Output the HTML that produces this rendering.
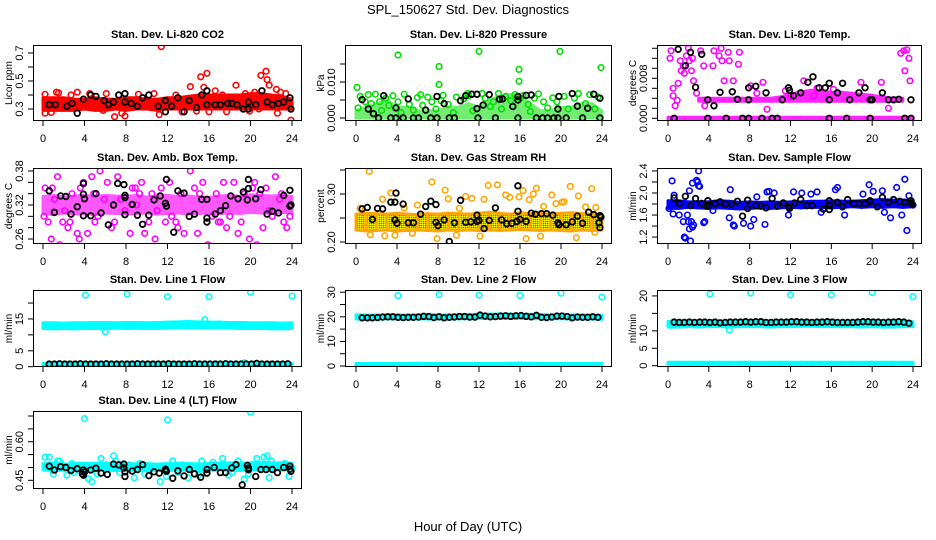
<!DOCTYPE html>
<html><head><meta charset="utf-8"><style>
html,body{margin:0;padding:0;background:#fff;}
svg{display:block;font-family:"Liberation Sans",Arial,sans-serif;}
</style></head><body>
<svg id="chart" width="936" height="540" viewBox="0 0 936 540" xmlns="http://www.w3.org/2000/svg">
<text x="468" y="14" font-size="13" text-anchor="middle">SPL_150627  Std. Dev. Diagnostics</text>
<text x="468" y="531" font-size="13" text-anchor="middle">Hour of Day (UTC)</text>
</svg>
<script>
const bandHours=[0,1,2,3,4,5,6,7,8,9,10,11,12,13,14,15,16,17,18,19,20,21,22,23,24];
const xTicks=[0,4,8,12,16,20,24];
const N=null;

// P1 CO2
const p1BandLo=[0.29,0.29,0.29,0.29,0.30,0.29,0.29,0.30,0.29,0.30,0.30,0.29,0.30,0.30,0.30,0.30,0.30,0.30,0.30,0.30,0.30,0.30,0.30,0.30,0.30];
const p1BandHi=[0.38,0.38,0.38,0.37,0.37,0.38,0.37,0.37,0.38,0.38,0.37,0.37,0.38,0.38,0.39,0.40,0.40,0.40,0.40,0.40,0.41,0.41,0.40,0.39,0.37];
const p1X=[11.4,15.2,15.8,14.2,21.0,21.5,21.6,21.8,18.6,6.9,7.9,23.9,11.2,0.2,1.3,1.5,3.3,9.2,0.2,16.6,22.5,0.8,7.6,12.8,15.5,17.3,19.5,20.4,22.9,23.4,4.5,6.1,2.7,10.7,14.8,16.0,17.7,20.8,22.6,5.8,13.4,19.9];
const p1Y=[0.745,0.53,0.555,0.46,0.54,0.57,0.51,0.47,0.47,0.245,0.25,0.22,0.26,0.405,0.42,0.415,0.42,0.405,0.27,0.43,0.44,0.275,0.27,0.40,0.455,0.40,0.41,0.42,0.42,0.41,0.41,0.41,0.40,0.41,0.285,0.28,0.28,0.30,0.27,0.29,0.28,0.285];
const p1BlackX=[0.6,1.2,2.3,2.8,3.3,3.9,4.6,5.1,5.9,6.3,6.8,7.3,7.9,7.9,8.5,9.1,9.6,10.2,11.1,11.8,11.8,12.4,13.0,13.6,14.1,14.8,15.3,15.8,15.8,16.6,17.1,17.8,18.2,18.7,19.3,19.8,19.8,20.5,21.1,21.6,22.1,22.7,23.2,23.8,23.9];
const p1BlackY=[0.33,0.33,0.32,0.34,0.27,0.37,0.40,0.39,0.36,0.33,0.35,0.40,0.41,0.35,0.34,0.32,0.38,0.40,0.32,0.36,0.28,0.32,0.38,0.28,0.36,0.31,0.40,0.43,0.33,0.33,0.33,0.34,0.34,0.33,0.30,0.30,0.35,0.33,0.43,0.35,0.33,0.34,0.35,0.38,0.30];

// P2 Pressure
const p2BandLo=[0,0,0,0,0,0,0,0,0,0,0,0,0,0,0,0,0,0,0,0,0,0,0,0,0];
const p2BandHi=[0.002,0.003,0.004,0.005,0.003,0.003,0.002,0.002,0.002,0.003,0.003,0.004,0.003,0.005,0.006,0.0065,0.006,0.004,0.002,0.002,0.003,0.003,0.004,0.004,0.002];
const p2X=[0.1,4.1,8.1,8.1,12.0,15.9,15.9,19.9,23.9,0.2,0.4,0.9,1.2,1.5,1.9,2.3,2.5,2.9,3.2,3.6,4.1,4.4,4.7,5.2,5.6,6.0,6.3,6.5,7.0,7.4,7.8,8.3,8.5,9.0,9.5,9.8,10.5,10.9,11.4,12.3,12.6,13.4,13.9,14.6,15.1,15.5,16.3,16.8,17.4,17.8,18.3,18.7,19.2,19.6,20.3,20.7,21.3,21.7,22.4,22.8,23.3,23.6,11.0,13.1,14.2,16.0,17.0];
const p2Y=[0.0085,0.0175,0.0143,0.0093,0.0185,0.0135,0.0102,0.0185,0.0140,0.0028,0.006,0.0045,0.0065,0.004,0.0066,0.0045,0.0021,0.0055,0.0035,0.0062,0.0045,0.0015,0.0066,0.0038,0.0022,0.0057,0.0065,0.0035,0.0058,0.0045,0.0025,0.0048,0.0063,0.0038,0.0015,0.0058,0.0053,0.0068,0.0020,0.0068,0.0055,0.0045,0.0068,0.0060,0.0048,0.0065,0.0062,0.0038,0.0055,0.0067,0.0045,0.0028,0.0056,0.0045,0.0060,0.0025,0.0055,0.0068,0.0040,0.0065,0.0025,0.0058,0.0062,0.0032,0.0025,0.0055,0.0018];
const p2BlackX=[2.2,3.4,3.9,4.6,5.6,6.1,7.3,7.9,9.1,9.6,11.9,13.6,15.8,17.6,18.2,18.7,19.3,19.7,20.5,22.1,23.8,0.6,1.2,1.7,2.7,3.9,5.1,6.8,7.9,8.6,10.2,10.7,11.3,11.8,11.8,12.4,13.0,14.0,14.3,15.3,15.8,15.8,16.6,17.1,19.7,19.8,21.1,21.6,22.6,23.2,23.8];
const p2BlackY=[0,0,0,0,0,0,0,0,0,0,0,0,0,0,0,0,0,0,0,0,0,0.0051,0.0025,0.0012,0.0062,0.0028,0.0053,0.0022,0.0060,0.0040,0.0048,0.0062,0.0066,0.0066,0.0026,0.0036,0.0065,0.0052,0.0053,0.0032,0.0060,0.0050,0.0063,0.0064,0.0025,0.0060,0.0068,0.0033,0.0027,0.0066,0.0055];

// P3 Li-820 Temp
const p3Band1Lo=[-0.0002,-0.0002,-0.0002,-0.0002,-0.0002,-0.0002,-0.0002,-0.0002,-0.0002,-0.0002,-0.0002,-0.0002,-0.0002,-0.0002,-0.0002,-0.0002,-0.0002,-0.0002,-0.0002,-0.0002,-0.0002,-0.0002,-0.0002,-0.0002,-0.0002];
const p3Band1Hi=[0.0002,0.0002,0.0002,0.0002,0.0002,0.0002,0.0002,0.0002,0.0002,0.0002,0.0002,0.0002,0.0002,0.0002,0.0002,0.0002,0.0002,0.0002,0.0002,0.0002,0.0002,0.0002,0.0002,0.0002,0.0002];
const p3Band2Lo=[N,N,N,0.0034,0.0034,0.0034,0.0034,0.0034,0.0034,0.0034,0.0034,0.0034,0.0034,0.0034,0.0034,0.0034,0.0034,0.0034,0.0034,0.0034,0.0034,0.0034,0.0034,0.0034,N];
const p3Band2Hi=[N,N,N,0.0040,0.0040,0.0040,0.0040,0.0040,0.0040,0.0040,0.0040,0.0043,0.0048,0.0053,0.0056,0.0055,0.0052,0.0052,0.0050,0.0048,0.0046,0.0043,0.0040,0.0040,N];
const p3X=[0.2,0.3,0.5,0.5,0.7,0.9,1.0,1.2,1.3,1.5,1.6,1.8,2.0,2.1,2.3,2.4,2.5,2.8,3.2,3.5,3.6,4.4,4.5,5.0,5.2,5.3,5.5,5.9,6.0,6.4,6.9,7.0,8.1,8.7,9.3,11.5,13.3,14.3,18.9,20.9,22.8,23.1,23.4,23.6,23.7,23.2,21.6,9.7,12.0,14.6,16.2];
const p3Y=[0.012,0.0135,0.006,0.0045,0.0025,0.0036,0.007,0.0115,0.0095,0.0105,0.009,0.0125,0.014,0.0115,0.0095,0.012,0.0075,0.005,0.0135,0.0105,0.0025,0.0105,0.0135,0.0125,0.014,0.0115,0.0075,0.0132,0.0115,0.0075,0.0108,0.0132,0.0065,0.005,0.0072,0.0055,0.0075,0.0045,0.0072,0.0072,0.013,0.0135,0.0137,0.012,0.0075,0.0095,0.0020,0.0018,0.0044,0.0060,0.0058];
const p3BlackX=[1.0,1.7,2.2,3.3,2.7,3.9,4.5,5.1,6.3,6.8,7.9,7.9,8.6,9.6,11.2,11.8,11.9,12.3,13.0,13.7,14.2,14.8,15.4,15.8,15.8,16.6,17.1,17.8,18.7,19.3,19.8,20.0,21.0,21.6,22.1,22.6,23.8,0.6,3.9,5.7,7.3,7.9,9.2,10.2,10.7,15.8,17.5,19.8,23.2,23.8];
const p3BlackY=[0.0138,0.0105,0.0132,0.0128,0.0062,0.0037,0.0025,0.0052,0.0053,0.0038,0.0061,0.0037,0.0064,0.0051,0.0037,0.0061,0.0056,0.0045,0.0051,0.0072,0.0083,0.0061,0.0061,0.0070,0.0037,0.0051,0.0070,0.0037,0.0051,0.0061,0.0037,0.0037,0.0051,0.0037,0.0037,0.0038,0.0037,0,0,0,0,0,0,0,0,0,0,0,0,0];

// P4 Amb Box Temp
const p4BandLo=[0.305,0.303,0.306,0.304,0.305,0.303,0.306,0.305,0.304,0.305,0.306,0.304,0.305,0.306,0.304,0.305,0.306,0.305,0.306,0.305,0.307,0.306,0.305,0.307,0.306];
const p4BandHi=[0.335,0.337,0.334,0.336,0.337,0.335,0.337,0.336,0.335,0.337,0.334,0.336,0.337,0.335,0.336,0.334,0.333,0.336,0.337,0.335,0.338,0.337,0.336,0.337,0.335];
const p4X=[0.1,0.2,0.5,0.8,1.1,1.4,1.6,2.1,2.4,2.8,3.3,3.5,3.9,4.3,4.7,5.0,5.5,5.9,6.2,6.6,7.2,7.9,8.4,8.9,9.5,9.8,10.2,10.8,11.4,12.2,12.4,13.0,13.6,14.2,14.9,15.4,15.9,16.3,16.9,17.4,17.7,18.4,18.8,19.4,19.9,20.4,20.6,21.2,21.8,22.4,22.8,23.2,23.5,23.8,7.5,9.0,11.0,13.3,18.0,20.9,0.9,2.6,4.9,6.9,8.6,10.5,12.8,14.6,16.7,19.1,21.5,23.0,1.9,3.6,5.3,9.3,11.8,15.1,17.1,20.2,22.1];
const p4Y=[0.30,0.35,0.29,0.26,0.33,0.37,0.25,0.31,0.28,0.34,0.27,0.26,0.36,0.27,0.37,0.29,0.38,0.33,0.36,0.28,0.37,0.31,0.27,0.35,0.36,0.27,0.29,0.26,0.35,0.36,0.30,0.28,0.27,0.38,0.27,0.36,0.25,0.30,0.29,0.36,0.28,0.36,0.27,0.34,0.26,0.36,0.25,0.28,0.31,0.37,0.33,0.29,0.28,0.30,0.33,0.32,0.31,0.34,0.30,0.34,0.35,0.29,0.34,0.29,0.35,0.34,0.29,0.35,0.34,0.29,0.35,0.34,0.29,0.35,0.30,0.34,0.29,0.34,0.29,0.35,0.30];
const p4BlackX=[0.6,1.1,1.7,2.2,2.7,3.3,3.9,3.9,4.0,3.9,4.6,5.1,5.6,6.3,6.8,7.2,7.8,7.9,7.9,7.9,8.6,9.1,9.6,10.2,10.7,11.3,11.8,11.9,11.9,12.6,13.0,13.6,14.1,14.6,15.3,15.8,15.8,15.8,16.6,17.1,17.6,18.1,18.8,19.3,19.7,19.8,19.8,20.5,21.0,21.6,22.1,22.7,23.2,23.8,23.8,23.9];
const p4BlackY=[0.345,0.307,0.336,0.335,0.304,0.317,0.358,0.339,0.331,0.301,0.301,0.340,0.306,0.285,0.320,0.358,0.356,0.337,0.333,0.303,0.321,0.302,0.286,0.302,0.329,0.336,0.323,0.318,0.365,0.272,0.345,0.341,0.300,0.304,0.330,0.330,0.297,0.290,0.304,0.310,0.319,0.336,0.331,0.343,0.329,0.365,0.349,0.331,0.347,0.304,0.309,0.306,0.337,0.346,0.318,0.320];

// P5 Gas Stream RH
const p5BandLo=[0.225,0.223,0.224,0.225,0.223,0.224,0.225,0.224,0.223,0.225,0.224,0.225,0.224,0.225,0.224,0.225,0.226,0.225,0.224,0.225,0.224,0.223,0.225,0.224,0.225];
const p5BandHi=[0.258,0.260,0.259,0.258,0.260,0.258,0.257,0.259,0.258,0.260,0.259,0.258,0.260,0.262,0.260,0.258,0.261,0.259,0.260,0.258,0.260,0.261,0.259,0.258,0.256];
const p5X=[0.4,1.3,1.4,2.6,2.8,3.4,3.8,4.7,5.5,7.4,7.9,8.7,9.0,9.8,10.7,11.3,12.1,12.5,12.9,13.8,14.6,15.0,15.9,16.3,16.9,17.3,17.6,18.3,19.1,19.5,20.1,20.3,20.9,21.7,22.4,23.0,23.4,23.3,16.6,18.0,21.5,0.9,6.0,10.1];
const p5Y=[0.27,0.347,0.215,0.289,0.213,0.302,0.214,0.271,0.218,0.325,0.207,0.308,0.29,0.214,0.295,0.291,0.212,0.289,0.318,0.319,0.298,0.293,0.294,0.307,0.288,0.300,0.312,0.274,0.298,0.280,0.283,0.284,0.316,0.296,0.273,0.311,0.272,0.220,0.207,0.212,0.209,0.232,0.277,0.27];
const p5BlackX=[0.6,1.1,1.6,2.1,2.6,3.4,3.8,3.9,3.8,4.0,4.6,5.1,5.6,6.3,6.8,7.3,7.8,7.8,8.0,8.6,9.1,9.6,10.2,10.7,11.2,11.8,11.8,12.0,12.5,13.0,13.6,14.2,14.7,15.2,15.7,15.8,15.8,16.0,16.6,17.1,17.5,18.1,18.6,19.2,19.7,19.8,20.5,21.1,21.6,22.1,22.7,23.2,23.7,23.8,23.8,23.9];
const p5BlackY=[0.269,0.272,0.247,0.270,0.269,0.283,0.283,0.302,0.246,0.239,0.279,0.240,0.240,0.258,0.274,0.285,0.278,0.241,0.234,0.246,0.201,0.240,0.287,0.241,0.242,0.256,0.243,0.245,0.228,0.245,0.271,0.246,0.238,0.239,0.243,0.317,0.264,0.247,0.243,0.260,0.258,0.259,0.259,0.256,0.240,0.236,0.236,0.242,0.254,0.239,0.262,0.257,0.240,0.230,0.255,0.252];

// P6 Sample Flow
const p6BandLo=[1.72,1.72,1.74,1.73,1.72,1.73,1.72,1.71,1.72,1.73,1.72,1.73,1.74,1.73,1.74,1.74,1.73,1.74,1.75,1.74,1.75,1.74,1.75,1.74,1.75];
const p6BandHi=[1.86,1.86,1.84,1.84,1.84,1.86,1.85,1.83,1.84,1.83,1.84,1.83,1.84,1.84,1.85,1.85,1.86,1.85,1.85,1.86,1.87,1.88,1.87,1.87,1.86];
const p6X=[0.1,0.4,0.5,0.6,1.1,1.5,1.6,1.7,1.9,2.0,2.1,2.1,2.2,2.3,2.4,2.4,2.5,2.8,2.9,3.0,3.0,3.1,3.5,3.6,4.4,6.1,6.0,6.4,6.5,7.4,8.1,8.4,8.7,9.5,9.7,9.9,10.4,11.8,12.3,13.1,14.0,14.6,16.4,16.6,17.3,19.1,19.7,20.1,21.0,21.8,22.4,22.9,23.2,23.4,23.6,24.0,21.2,15.0];
const p6Y=[1.72,2.22,1.62,1.96,1.60,1.48,1.20,1.18,1.60,1.48,2.04,1.35,1.13,1.48,2.18,1.38,1.42,2.23,2.20,2.40,2.13,2.12,1.46,1.48,1.68,2.06,1.55,1.42,1.40,1.45,1.40,1.52,1.93,1.43,2.02,2.03,2.00,1.60,2.02,2.00,1.98,2.02,2.06,2.10,1.60,1.98,2.15,2.03,2.04,1.55,2.10,1.60,2.25,1.32,1.95,1.78,1.65,1.65];
const p6BlackX=[0.6,1.1,1.7,2.2,2.7,3.3,3.8,3.9,4.0,4.6,5.1,5.6,6.2,6.8,7.3,7.8,7.8,8.6,9.1,9.6,10.2,10.7,11.3,11.8,11.9,12.4,13.0,13.6,14.1,15.2,15.8,15.8,15.8,16.6,17.1,17.6,18.2,18.7,19.3,19.8,19.8,20.5,21.0,21.6,22.1,22.7,23.2,23.8,23.8,23.9];
const p6BlackY=[1.91,1.81,1.94,1.77,1.90,1.81,1.76,1.86,1.78,1.81,1.84,1.80,1.80,1.85,1.58,1.72,1.87,1.77,1.76,1.73,1.90,1.76,1.82,1.75,1.72,1.82,1.88,1.77,1.77,1.71,1.86,1.77,1.70,1.83,1.75,1.88,1.81,1.81,1.81,1.84,1.86,1.75,1.92,1.83,1.88,1.85,1.83,1.82,1.86,1.80];

// P7 Line 1 Flow
const p7Band1Lo=[12.0,11.9,12.0,11.9,12.0,12.0,11.9,12.1,12.0,12.1,12.0,12.0,12.1,12.2,12.2,12.2,12.1,12.1,12.1,12.0,12.0,12.0,11.9,11.9,12.0];
const p7Band1Hi=[13.8,13.8,13.7,13.8,13.8,13.9,13.9,13.8,13.9,13.9,13.8,13.9,14.0,14.1,14.2,14.1,14.0,14.0,13.9,13.9,13.8,13.8,13.8,13.7,13.8];
const p7Band2Lo=[0.4,0.4,0.4,0.4,0.4,0.4,0.4,0.4,0.4,0.4,0.4,0.4,0.4,0.4,0.4,0.4,0.4,0.4,0.4,0.4,0.4,0.4,0.4,0.4,0.4];
const p7Band2Hi=[1.0,1.0,1.0,1.0,1.0,1.0,1.0,1.0,1.0,1.0,1.0,1.0,1.0,1.0,1.0,1.0,1.0,1.0,1.0,1.0,1.0,1.0,1.0,1.0,1.0];
const p7X=[4.1,8.1,12.0,16.0,20.0,24.0,6.0,15.6,16.7,19.4];
const p7Y=[22.5,22.8,22.0,22.0,23.4,22.2,11.0,14.8,0.9,1.2];
const p7BlackY=[0.8,0.8,0.9,0.8,0.8,0.8,0.9,0.8,0.8,0.8,0.8,0.9,0.8,0.8,0.8,0.8,0.8,0.9,0.8,0.8,0.8,0.8,0.8,0.9,0.8,0.8,0.8,0.8,0.9,0.8,0.8,0.8,0.8,0.8,0.9,0.8,0.8,0.8,0.8,0.8,1.0,0.8,0.8,0.8,0.8,0.8,0.9];

// P8 Line 2 Flow
const p8Band1Lo=[19.1,19.0,19.1,19.2,19.1,19.1,19.2,19.1,19.1,19.2,19.2,19.2,19.3,19.4,19.4,19.4,19.4,19.3,19.2,19.2,19.2,19.1,19.1,19.1,19.0];
const p8Band1Hi=[20.8,20.7,20.7,20.8,20.8,20.7,20.8,20.9,20.8,20.8,20.9,20.9,21.0,21.1,21.1,21.1,21.0,21.0,20.9,20.8,20.8,20.7,20.7,20.7,20.6];
const p8Band2Lo=[0.2,0.2,0.2,0.2,0.2,0.2,0.2,0.2,0.2,0.2,0.2,0.2,0.2,0.2,0.2,0.2,0.2,0.2,0.2,0.2,0.2,0.2,0.2,0.2,0.2];
const p8Band2Hi=[1.0,1.0,1.0,1.0,1.0,1.0,1.1,1.0,1.0,1.0,1.0,1.0,1.0,1.0,1.0,1.1,1.2,1.1,1.0,1.0,1.0,1.0,1.0,1.0,1.0];
const p8X=[4.1,8.1,12.0,16.0,20.0,24.0,0.2];
const p8Y=[28.6,29.0,28.8,28.7,29.6,28.0,20.0];
const p8BlackY=[19.6,19.6,19.6,19.7,19.9,20.0,20.0,19.8,19.7,19.8,19.8,19.9,20.2,20.1,19.7,20.0,19.6,19.8,19.9,20.1,20.1,19.9,19.9,20.7,20.3,20.0,20.1,20.3,20.4,20.2,20.4,20.5,20.2,20.0,20.6,19.8,19.7,19.9,20.3,20.3,20.1,19.6,19.9,19.8,19.8,20.0,19.8];

// P9 Line 3 Flow
const p9Band1Lo=[11.1,11.1,11.2,11.1,11.2,11.2,11.1,11.2,11.2,11.2,11.1,11.2,11.2,11.3,11.3,11.2,11.2,11.2,11.2,11.1,11.2,11.1,11.1,11.2,11.2];
const p9Band1Hi=[12.7,12.7,12.8,12.7,12.7,12.7,12.7,12.7,12.7,12.7,12.7,12.7,12.8,12.9,12.8,12.7,12.7,12.7,12.7,12.7,12.7,12.7,12.7,12.7,12.6];
const p9Band2Lo=[0.4,0.4,0.4,0.4,0.4,0.4,0.4,0.4,0.4,0.4,0.4,0.4,0.4,0.4,0.4,0.4,0.4,0.4,0.4,0.4,0.4,0.4,0.4,0.4,0.4];
const p9Band2Hi=[1.0,1.0,1.0,1.0,1.0,1.0,1.0,1.0,1.0,1.0,1.0,1.0,1.0,1.0,1.0,1.0,1.0,1.0,1.0,1.0,1.0,1.0,1.0,1.0,1.0];
const p9X=[4.1,8.1,12.0,16.0,20.0,24.0,6.0,0.2];
const p9Y=[20.5,20.8,20.3,20.3,21.0,19.8,10.2,11.6];
const p9BlackY=[12.5,12.4,12.4,12.5,12.4,12.5,12.5,12.4,12.5,12.3,12.4,12.5,12.5,12.5,12.6,12.5,12.6,12.6,12.4,12.4,12.5,12.5,12.5,12.6,12.6,12.5,12.5,12.4,12.5,12.5,12.6,12.5,12.4,12.4,12.4,12.4,12.5,12.6,12.6,12.5,12.5,12.4,12.5,12.5,12.6,12.5,12.2];

// P10 Line 4 (LT) Flow
const p10BandLo=[0.490,0.488,0.489,0.487,0.488,0.489,0.490,0.488,0.489,0.488,0.487,0.489,0.488,0.490,0.489,0.488,0.489,0.490,0.489,0.488,0.490,0.491,0.491,0.490,0.491];
const p10BandHi=[0.515,0.517,0.513,0.515,0.516,0.515,0.516,0.517,0.515,0.514,0.515,0.513,0.515,0.516,0.515,0.514,0.515,0.517,0.518,0.517,0.518,0.520,0.518,0.518,0.517];
const p10X=[0.2,0.6,0.9,1.4,1.6,2.3,2.8,3.5,4.0,4.4,4.7,5.6,6.1,6.8,7.4,8.3,8.8,9.3,10.4,11.3,11.9,12.0,12.5,13.4,14.0,15.0,15.6,16.4,17.3,17.9,18.8,19.4,19.8,20.0,20.6,21.3,21.6,21.8,22.5,23.3,23.7,24.0,1.0,3.0,5.2,7.0,9.8,13.0,15.3,18.2,22.0];
const p10Y=[0.54,0.54,0.49,0.525,0.525,0.47,0.515,0.505,0.69,0.455,0.445,0.535,0.51,0.545,0.48,0.51,0.46,0.515,0.505,0.445,0.465,0.685,0.525,0.51,0.46,0.47,0.49,0.52,0.535,0.47,0.525,0.455,0.475,0.715,0.535,0.54,0.545,0.46,0.505,0.515,0.465,0.5,0.475,0.48,0.475,0.525,0.475,0.48,0.525,0.48,0.525];
const p10BlackX=[0.6,1.1,1.7,2.2,2.7,3.3,3.8,3.9,3.9,4.0,4.6,5.1,5.6,6.2,6.8,7.3,7.8,7.8,7.9,7.9,8.6,9.1,9.6,10.2,10.7,11.2,11.8,11.8,11.9,12.5,13.0,13.6,14.1,14.6,15.2,15.8,15.8,16.5,17.1,17.6,18.2,18.6,19.2,19.7,19.8,19.8,20.5,21.0,21.5,22.1,22.6,23.2,23.8,23.8,23.9];
const p10BlackY=[0.505,0.49,0.503,0.5,0.488,0.495,0.475,0.49,0.47,0.482,0.49,0.497,0.478,0.473,0.513,0.51,0.513,0.498,0.483,0.465,0.486,0.492,0.511,0.468,0.483,0.478,0.493,0.488,0.485,0.458,0.487,0.467,0.492,0.475,0.462,0.492,0.478,0.5,0.48,0.48,0.498,0.511,0.432,0.508,0.498,0.491,0.465,0.492,0.492,0.492,0.48,0.5,0.505,0.493,0.485];

const rowBlackX=[];for(let i=0;i<47;i++)rowBlackX.push(0.6+i*0.5);

const NS='http://www.w3.org/2000/svg';
const svg=document.getElementById('chart');
function el(tag,attrs,parent){const e=document.createElementNS(NS,tag);for(const k in attrs)e.setAttribute(k,attrs[k]);(parent||svg).appendChild(e);return e;}

const cols=[{l:33,r:302,x0:43,x24:292,ylabX:12,tickX:23},{l:345,r:612,x0:356,x24:602,ylabX:324,tickX:335},{l:657,r:922,x0:668,x24:913,ylabX:636,tickX:647}];
const rows=[{t:45,b:121},{t:168,b:244},{t:290,b:367},{t:411,b:489}];

const panels=[
 {key:'li820-co2',title:'Stan. Dev. Li-820 CO2',ylab:'Licor ppm',c:0,r:0,d:[0.2143,0.757],ticks:[0.3,0.4,0.5,0.6,0.7],labels:['0.3','','0.5','','0.7'],color:'#ff0000',op:1,bands:[[p1BandLo,p1BandHi]],x:p1X,y:p1Y,bx:p1BlackX,by:p1BlackY},
 {key:'li820-pressure',title:'Stan. Dev. Li-820 Pressure',ylab:'kPa',c:1,r:0,d:[-0.00083,0.02028],ticks:[0,0.005,0.010,0.015],labels:['0.000','','0.010',''],color:'#00e000',op:0.55,bands:[[p2BandLo,p2BandHi]],x:p2X,y:p2Y,bx:p2BlackX,by:p2BlackY},
 {key:'li820-temp',title:'Stan. Dev. Li-820 Temp.',ylab:'degrees C',c:2,r:0,d:[-0.00054,0.01466],ticks:[0,0.002,0.004,0.006,0.008,0.010,0.012,0.014],labels:['0.000','','','','0.008','','',''],color:'#ff00ff',op:0.85,bands:[[p3Band1Lo,p3Band1Hi],[p3Band2Lo,p3Band2Hi]],x:p3X,y:p3Y,bx:p3BlackX,by:p3BlackY},
 {key:'amb-box-temp',title:'Stan. Dev. Amb. Box Temp.',ylab:'degrees C',c:0,r:1,d:[0.2512,0.3853],ticks:[0.26,0.28,0.30,0.32,0.34,0.36,0.38],labels:['0.26','','','0.32','','','0.38'],color:'#ff00ff',op:0.65,bands:[[p4BandLo,p4BandHi]],x:p4X,y:p4Y,bx:p4BlackX,by:p4BlackY},
 {key:'gas-stream-rh',title:'Stan. Dev. Gas Stream RH',ylab:'percent',c:1,r:1,d:[0.1958,0.3542],ticks:[0.20,0.25,0.30,0.35],labels:['0.20','','0.30',''],color:'#ffa500',op:1,pattern:true,bands:[[p5BandLo,p5BandHi]],x:p5X,y:p5Y,bx:p5BlackX,by:p5BlackY},
 {key:'sample-flow',title:'Stan. Dev. Sample Flow',ylab:'ml/min',c:2,r:1,d:[1.0746,2.4537],ticks:[1.2,1.4,1.6,1.8,2.0,2.2,2.4],labels:['1.2','','1.6','','2.0','','2.4'],color:'#0000ff',op:1,bands:[[p6BandLo,p6BandHi]],x:p6X,y:p6Y,bx:p6BlackX,by:p6BlackY},
 {key:'line1-flow',title:'Stan. Dev. Line 1 Flow',ylab:'ml/min',c:0,r:2,d:[-0.1,24.1],ticks:[0,5,10,15,20],labels:['0','5','','15',''],color:'#00ffff',op:1,bands:[[p7Band1Lo,p7Band1Hi],[p7Band2Lo,p7Band2Hi]],x:p7X,y:p7Y,bx:rowBlackX,by:p7BlackY},
 {key:'line2-flow',title:'Stan. Dev. Line 2 Flow',ylab:'ml/min',c:1,r:2,d:[-0.4,30.9],ticks:[0,5,10,15,20,25,30],labels:['0','','10','','20','','30'],color:'#00ffff',op:1,bands:[[p8Band1Lo,p8Band1Hi],[p8Band2Lo,p8Band2Hi]],x:p8X,y:p8Y,bx:rowBlackX,by:p8BlackY},
 {key:'line3-flow',title:'Stan. Dev. Line 3 Flow',ylab:'ml/min',c:2,r:2,d:[-0.37,21.7],ticks:[0,5,10,15,20],labels:['0','5','10','','20'],color:'#00ffff',op:1,bands:[[p9Band1Lo,p9Band1Hi],[p9Band2Lo,p9Band2Hi]],x:p9X,y:p9Y,bx:rowBlackX,by:p9BlackY},
 {key:'line4-flow',title:'Stan. Dev. Line 4 (LT) Flow',ylab:'ml/min',c:0,r:3,d:[0.4162,0.7195],ticks:[0.45,0.50,0.55,0.60,0.65,0.70],labels:['0.45','','','0.60','',''],color:'#00ffff',op:1,bands:[[p10BandLo,p10BandHi]],x:p10X,y:p10Y,bx:p10BlackX,by:p10BlackY}
];

const defs=el('defs',{});
const pat=el('pattern',{id:'rhpat',width:2,height:2,patternUnits:'userSpaceOnUse'},defs);
el('rect',{width:2,height:2,fill:'#ffa500'},pat);
el('rect',{width:1,height:1,fill:'#ffff00'},pat);
el('rect',{x:1,y:1,width:1,height:1,fill:'#ff3000'},pat);

panels.forEach(p=>{
 const C=cols[p.c],R=rows[p.r];
 const g=el('g',{});
 
 
 const sx=v=>C.x0+(C.x24-C.x0)*v/24;
 const sy=v=>R.b-(R.b-R.t)*(v-p.d[0])/(p.d[1]-p.d[0]);
 const cp=el('clipPath',{id:'cp-'+p.key},defs);
 el('rect',{x:C.l,y:R.t,width:C.r-C.l,height:R.b-R.t},cp);
 const plot=el('g',{'clip-path':'url(#cp-'+p.key+')'},g);
 
 
 const fill=p.pattern?'url(#rhpat)':p.color;
 const bg=el('g',{opacity:p.op},plot);
 
 
 p.bands.forEach(b=>{
  const lo=b[0],hi=b[1];
  for(let i=0;i<bandHours.length-1;i++){
   if(lo[i]==null||lo[i+1]==null)continue;
   const pts=[[sx(bandHours[i]),sy(hi[i])],[sx(bandHours[i+1]),sy(hi[i+1])],[sx(bandHours[i+1]),sy(lo[i+1])],[sx(bandHours[i]),sy(lo[i])]];
   const poly=el('polygon',{points:pts.map(q=>q.join(',')).join(' '),fill:fill,stroke:p.pattern?'#ffa500':p.color,'stroke-width':3,'stroke-linejoin':'round'},bg);
   
   
  }
 });
 for(let i=0;i<p.x.length;i++){
  const c=el('circle',{cx:sx(p.x[i]),cy:sy(p.y[i]),r:2.8,fill:'none',stroke:p.color,'stroke-width':1.6},plot);
  
  
 }
 for(let i=0;i<p.by.length;i++){
  const c=el('circle',{cx:sx(p.bx[i]),cy:sy(p.by[i]),r:2.8,fill:'none',stroke:'#000','stroke-width':1.8},plot);
  
  
 }
 const box=el('rect',{x:C.l+0.5,y:R.t+0.5,width:C.r-C.l-1,height:R.b-R.t-1,fill:'none',stroke:'#000','stroke-width':1},g);
 
 
 xTicks.forEach(t=>{
  el('line',{x1:sx(t),x2:sx(t),y1:R.b,y2:R.b+5,stroke:'#000','stroke-width':1},g);
  const tl=el('text',{x:sx(t),y:R.b+21,'font-size':11,'text-anchor':'middle'},g);
  tl.textContent=String(t);
  
  
 });
 p.ticks.forEach((t,i)=>{
  const y=sy(t);
  el('line',{x1:C.l-5,x2:C.l,y1:y,y2:y,stroke:'#000','stroke-width':1},g);
  if(p.labels[i]){
   const tl=el('text',{x:C.tickX,y:y,'font-size':11,'text-anchor':'middle',transform:'rotate(-90 '+C.tickX+' '+y+')'},g);
   tl.textContent=p.labels[i];
   
   
  }
 });
 const cy=(R.t+R.b)/2;
 const yl=el('text',{x:C.ylabX,y:cy,'font-size':10,'text-anchor':'middle',transform:'rotate(-90 '+C.ylabX+' '+cy+')'},g);
 yl.textContent=p.ylab;
 
 
 const tt=el('text',{x:(C.l+C.r)/2,y:R.t-7,'font-size':11,'font-weight':'bold','text-anchor':'middle'},g);
 tt.textContent=p.title;
 
 
});
</script>
</body></html>
